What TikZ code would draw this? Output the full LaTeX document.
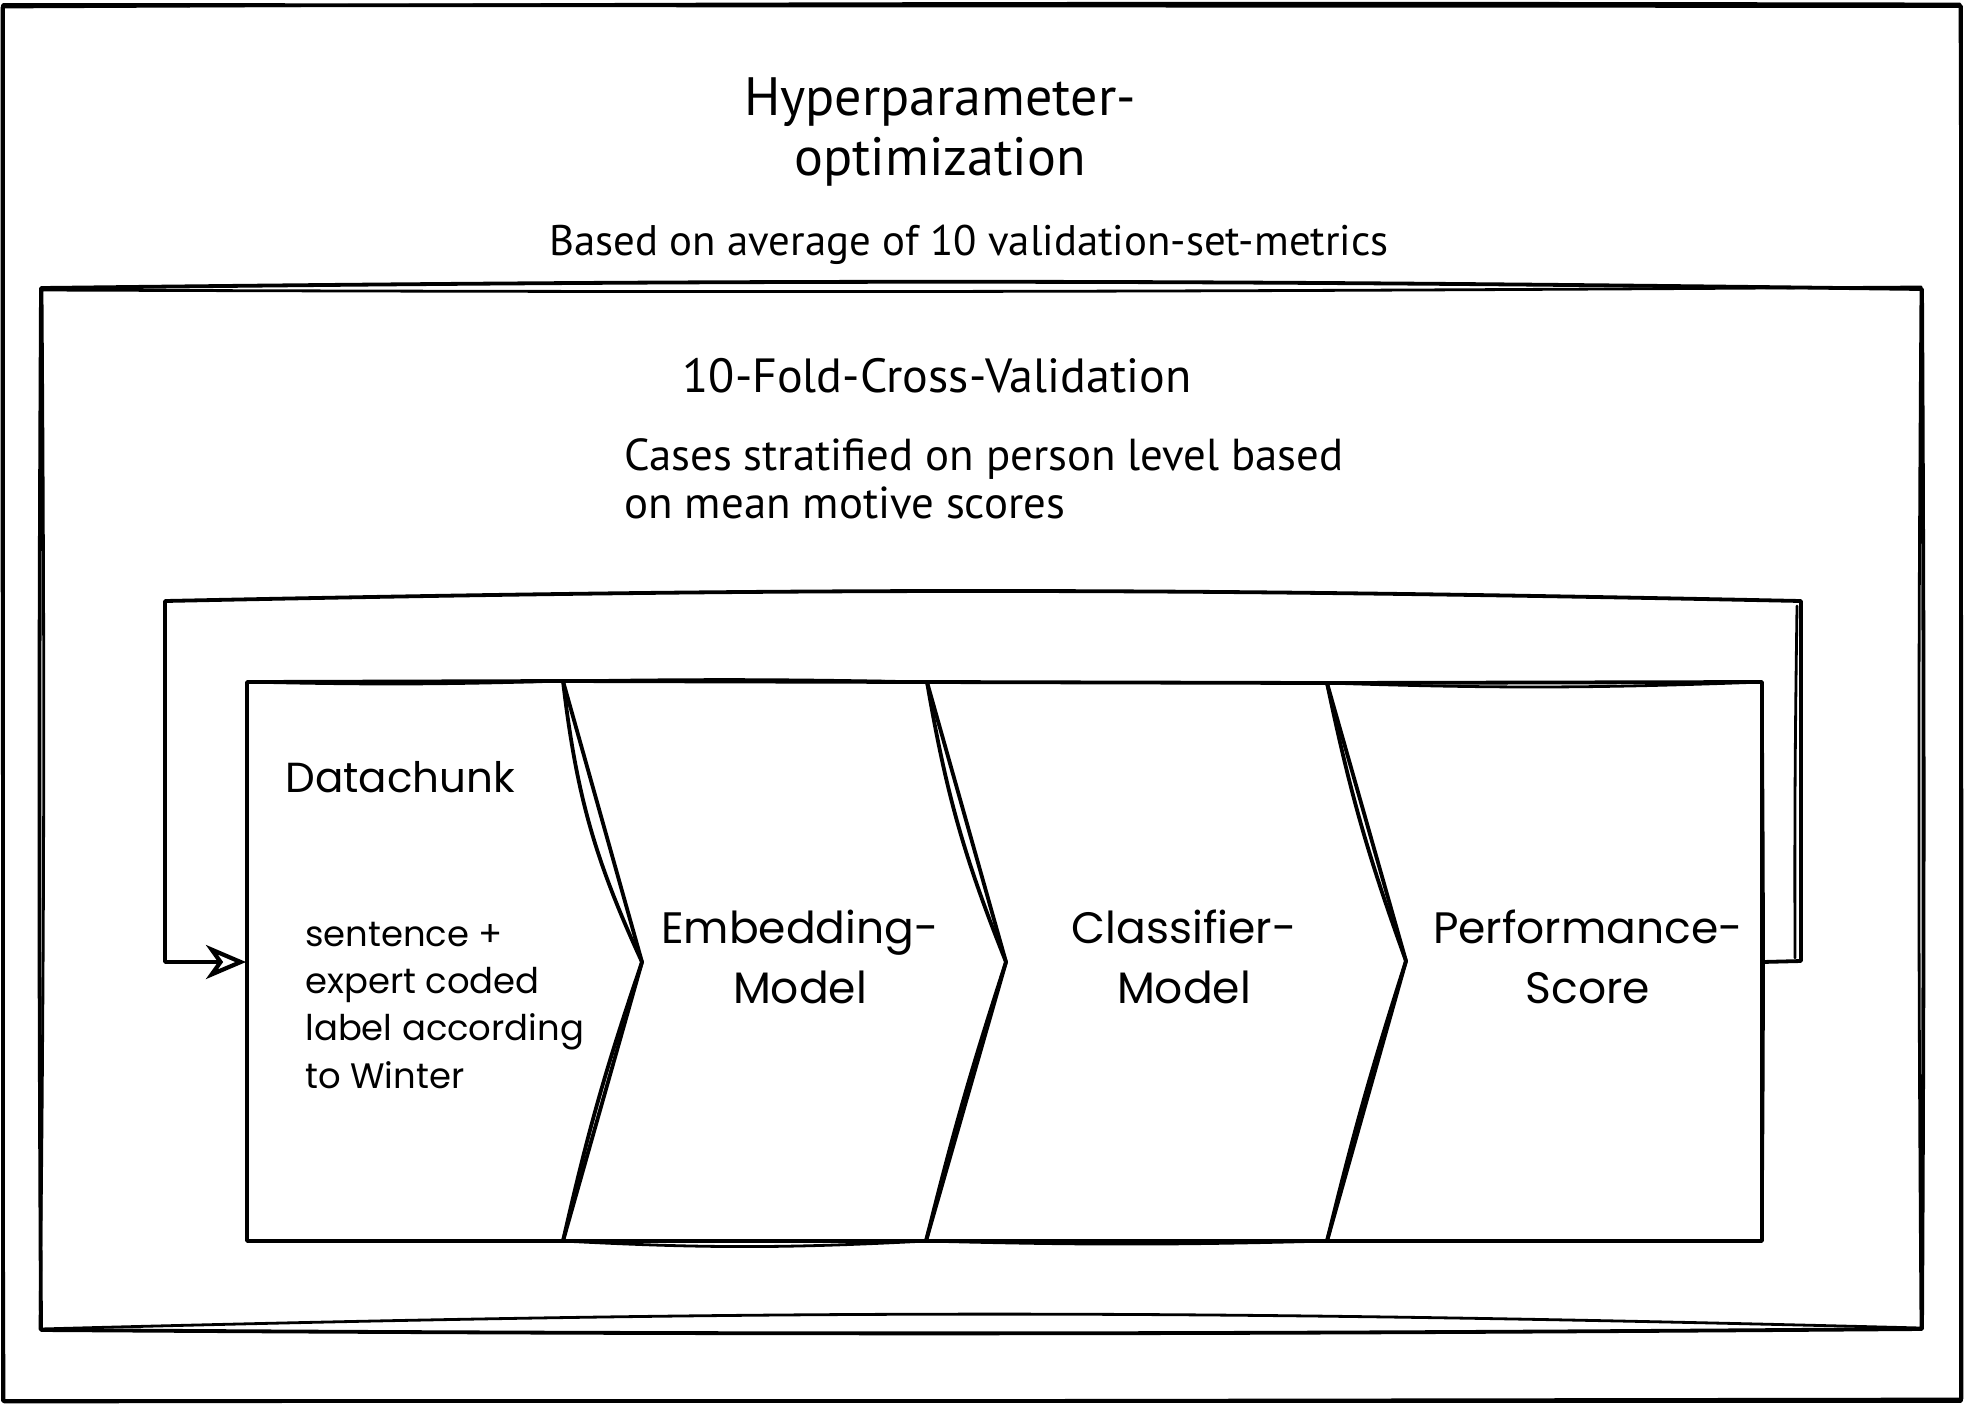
\documentclass[tikz,border=0pt]{standalone}
\usepackage{fontspec}
\setmainfont{Poppins}
\newfontfamily\narrowhand{PT Sans}
\usetikzlibrary{arrows.meta}

\begin{document}
\begin{tikzpicture}[x=0.5pt,y=-0.5pt,
  ink/.style={line width=1.9pt, line join=round, line cap=round},
  ink2/.style={line width=1.4pt, line join=round, line cap=round},
  headline/.style={font=\narrowhand\fontsize{27}{30}\selectfont, align=center, inner sep=0pt, anchor=base},
  note/.style={font=\narrowhand\fontsize{21.4}{24}\selectfont, inner sep=0pt},
  stagelabel/.style={font=\fontsize{22}{30}\selectfont, align=center, inner sep=0pt, anchor=base},
  chunklabel/.style={font=\fontsize{21}{25}\selectfont, inner sep=0pt, anchor=base west},
  chunknote/.style={font=\fontsize{17.7}{23.65}\selectfont, align=left, inner sep=0pt, anchor=base west},
  loopline/.style={ink, -{Stealth[open, length=20pt, width=17pt, inset=6pt, line width=2.1pt]}}]

\useasboundingbox (0,0) rectangle (1964,1404);

% outer frame
\draw[ink] (3,5) -- (1961,6) -- (1961,1401) -- (3,1401) -- cycle;
\draw[ink2] (2,7) to[bend left=0.2] (1960,4) to[bend left=0.1] (1962,1399) -- (4,1402) to[bend left=0.1] (2,7);

% cross-validation frame
\draw[ink] (41,288) to[bend left=0.7] (1922,289) to[bend left=0.3] (1922,1329)
  to[bend left=0.4] (41,1330) to[bend left=0.3] cycle;
\draw[ink2] (42,290) to[bend right=0.3] (1921,287) to[bend right=0.4] (1921,1328)
  to[bend right=1.5] (40,1329) to[bend right=0.5] cycle;

% titles (a multi-line node sits on the baseline of its last line)
\node[headline] (hpo) at (940,175) {Hyperparameter-\\optimization};
\node[note, anchor=base] (avg) at (969,255) {Based on average of 10 validation-set-metrics};
\node[headline, font=\narrowhand\fontsize{24}{28}\selectfont] (cv) at (937,392) {10-Fold-Cross-Validation};
\node[note, font=\narrowhand\fontsize{22.4}{24}\selectfont, align=left, anchor=base west] (strat) at (624,518) {Cases stratified on person level based\\on mean motive scores};

% pipeline corner points
\coordinate (a1) at (247,682);  \coordinate (a2) at (247,1241);
\coordinate (b1) at (563,681);  \coordinate (b2) at (563,1241);  \coordinate (bp) at (642,962);
\coordinate (c1) at (927,682);  \coordinate (c2) at (926,1241);  \coordinate (cp) at (1006,962);
\coordinate (d1) at (1327,683); \coordinate (d2) at (1327,1241); \coordinate (dp) at (1406,961);
\coordinate (e1) at (1762,682); \coordinate (e2) at (1762,1241);

% datachunk block
\draw[ink] (a1) -- (b1) -- (bp) -- (b2) -- (a2) -- cycle;
\draw[ink2] (a1) to[bend right=1.5] (b1);
% embedding chevron
\draw[ink] (b1) -- (c1) -- (cp) -- (c2) -- (b2) to[bend left=3] (bp) to[bend left=9] (b1);
\draw[ink2] (b2) to[bend right=3] (c2);
\draw[ink2] (b1) to[bend left=1] (c1);
% classifier chevron
\draw[ink] (c1) -- (d1) -- (dp) -- (d2) -- (c2) to[bend left=2] (cp) to[bend left=6] (c1);
\draw[ink2] (c2) to[bend right=1.5] (d2);
% performance block
\draw[ink] (d1) -- (e1) -- (e2) -- (d2) to[bend left=2] (dp) to[bend left=4] (d1);
\draw[ink2] (d1) to[bend right=2] (e1);
\draw[ink2] (e1) to[bend left=0.5] (e2);

% stage labels
\node[chunklabel] (chunk) at (285,792) {Datachunk};
\node[chunknote] (chunknote) at (305,1088) {sentence +\\expert coded\\label according\\to Winter};
\node[stagelabel] (embed) at (800,1003) {Embedding-\\Model};
\node[stagelabel] (clf) at (1184,1003) {Classifier-\\Model};
\node[stagelabel] (perf) at (1588,1003) {Performance-\\Score};

% feedback loop from the score back to the next data chunk
\coordinate (perfR) at (1762,962);
\coordinate (dataL) at (246,962);
\coordinate (loopRB) at (1801,961);
\coordinate (loopRT) at (1801,601);
\coordinate (loopLT) at (165,601);
\coordinate (loopLB) at (165,962);
\draw[loopline] (perfR) -- (loopRB) -- (loopRT) to[bend right=1.2] (loopLT) -- (loopLB) -- (dataL);
\draw[ink2] (1795,958) to[bend left=0.5] (1797,606);
\end{tikzpicture}
\end{document}
